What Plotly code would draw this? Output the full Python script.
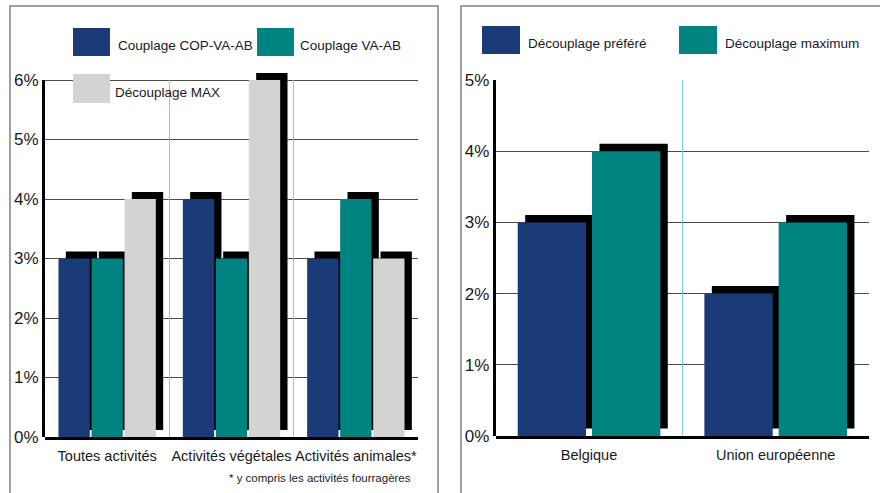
import plotly.graph_objects as go

# ---------------- data ----------------
left_categories = ["Toutes activités", "Activités végétales", "Activités animales*"]
left_series = ["Couplage COP-VA-AB", "Couplage VA-AB", "Découplage MAX"]
couplage_cop_va_ab = [3, 4, 3]
couplage_va_ab = [3, 3, 4]
decouplage_max = [4, 6, 3]
left_tick_values = [0, 1, 2, 3, 4, 5, 6]
left_tick_labels = ["0%", "1%", "2%", "3%", "4%", "5%", "6%"]

right_categories = ["Belgique", "Union européenne"]
right_series = ["Découplage préféré", "Découplage maximum"]
decouplage_prefere = [3, 2]
decouplage_maximum = [4, 3]
right_tick_values = [0, 1, 2, 3, 4, 5]
right_tick_labels = ["0%", "1%", "2%", "3%", "4%", "5%"]

footnote = "* y compris les activités fourragères"

# ---------------- style ----------------
W, H = 880, 493
FONT = "Liberation Sans, Arial, sans-serif"
BLUE = "#1b3a78"
TEAL = "#008482"
GREY = "#d3d4d2"
GRID = "#4a4a4a"
SKY = "#7fcbef"
FRAME = "#808080"
TXT = "#1a1a1a"


def px(x):
    return x / W


def py(y):
    return 1 - y / H


fig = go.Figure()

left_values = [couplage_cop_va_ab, couplage_va_ab, decouplage_max]
right_values = [decouplage_prefere, decouplage_maximum]
left_colors = [BLUE, TEAL, GREY]
right_colors = [BLUE, TEAL]


def add_panel(values, colors, ncat, bw, gap, dx, dy, xa, ya):
    group = len(values) * bw + (len(values) - 1) * gap
    xs = list(range(ncat))
    # shadows first
    for i, v in enumerate(values):
        off = -group / 2 + i * (bw + gap)
        fig.add_trace(go.Bar(x=xs, y=v, base=[dy] * ncat, offset=off + dx, width=bw,
                             marker=dict(color="black", line=dict(width=0)),
                             xaxis=xa, yaxis=ya, showlegend=False, hoverinfo="skip"))
    for i, v in enumerate(values):
        off = -group / 2 + i * (bw + gap)
        fig.add_trace(go.Bar(x=xs, y=v, offset=off, width=bw,
                             marker=dict(color=colors[i], line=dict(width=0)),
                             xaxis=xa, yaxis=ya, showlegend=False))


# left: category width 124.3 px, unit 59.5 px
add_panel(left_values, left_colors, 3, 0.252, 0.0135, 0.059, 0.118, "x", "y")
# right: category width 186.7 px, unit 71.2 px
add_panel(right_values, right_colors, 2, 0.366, 0.032, 0.040, 0.105, "x2", "y2")

# empty traces for decoration subplots
fig.add_trace(go.Scatter(x=[], y=[], xaxis="x3", yaxis="y3", showlegend=False, hoverinfo="skip"))
fig.add_trace(go.Scatter(x=[], y=[], xaxis="x4", yaxis="y4", showlegend=False, hoverinfo="skip"))

tickfont = dict(family=FONT, size=17, color=TXT)
catfont = dict(family=FONT, size=14.5, color=TXT)

L_x0, L_x1, L_y0, L_y6 = 45, 418, 437, 80
R_x0, R_x1, R_y0, R_y5 = 495.7, 869, 436, 80
extra_left = 8 / ((L_y0 - L_y6) / 6)

fig.update_layout(
    width=W, height=H, autosize=False,
    margin=dict(l=0, r=0, t=0, b=0, autoexpand=False),
    paper_bgcolor="white", plot_bgcolor="rgba(0,0,0,0)",
    barmode="overlay", showlegend=False,
    font=dict(family=FONT),
    xaxis=dict(domain=[px(L_x0), px(L_x1)], range=[-0.5, 2.5], anchor="y",
               tickvals=[0, 1, 2], ticktext=left_categories, tickfont=catfont, tickangle=0,
               showgrid=False, zeroline=False, showline=True, linecolor="black", linewidth=3,
               ticks="", ticklabelstandoff=4),
    yaxis=dict(domain=[py(L_y0), py(L_y6 - 8)], range=[0, 6 + extra_left], anchor="x",
               tickvals=left_tick_values, showticklabels=False, showgrid=True,
               gridcolor=GRID, gridwidth=1.2, zeroline=False, showline=False, ticks=""),
    xaxis2=dict(domain=[px(R_x0), px(R_x1)], range=[-0.5, 1.5], anchor="y2",
                tickvals=[0, 1], ticktext=right_categories, tickfont=catfont, tickangle=0,
                showgrid=False, zeroline=False, showline=True, linecolor="black", linewidth=3,
                ticks="", ticklabelstandoff=4),
    yaxis2=dict(domain=[py(R_y0), py(R_y5)], range=[0, 5], anchor="x2",
                tickvals=right_tick_values, showticklabels=False, showgrid=True,
                gridcolor=GRID, gridwidth=1.2, zeroline=False, showline=False, ticks=""),
    xaxis3=dict(domain=[px(L_x0), px(L_x1)], range=[-0.5, 2.5], anchor="y3",
                tickvals=[0.5, 1.5, 2.5], showticklabels=False, showgrid=True,
                gridcolor=SKY, gridwidth=1, zeroline=False, showline=False, ticks=""),
    yaxis3=dict(domain=[py(L_y0), py(L_y6)], range=[0, 6], anchor="x3",
                tickvals=left_tick_values, ticktext=left_tick_labels, tickfont=tickfont,
                showgrid=False, zeroline=False, showline=True, linecolor="black", linewidth=3,
                ticks="", ticklabelstandoff=0),
    xaxis4=dict(domain=[px(R_x0), px(R_x1)], range=[-0.5, 1.5], anchor="y4",
                tickvals=[0.5, 1.5], showticklabels=False, showgrid=True,
                gridcolor=SKY, gridwidth=1, zeroline=False, showline=False, ticks=""),
    yaxis4=dict(domain=[py(R_y0), py(R_y5)], range=[0, 5], anchor="x4",
                tickvals=right_tick_values, ticktext=right_tick_labels, tickfont=tickfont,
                showgrid=False, zeroline=False, showline=True, linecolor="black", linewidth=3,
                ticks="", ticklabelstandoff=0),
)

shapes = []
annotations = []

# panel frames
shapes.append(dict(type="path", xref="paper", yref="paper",
                   path=f"M {px(10)} {py(H + 5)} L {px(10)} {py(6)} L {px(438)} {py(6)} L {px(438)} {py(H + 5)}",
                   line=dict(color=FRAME, width=1.5)))
shapes.append(dict(type="path", xref="paper", yref="paper",
                   path=f"M {px(461)} {py(H + 5)} L {px(461)} {py(6)} L {px(W + 5)} {py(6)}",
                   line=dict(color=FRAME, width=1.5)))

legend_font = dict(family=FONT, size=13.5, color=TXT)
legend_items = [
    (left_series[0], BLUE, 73, 28, 110, 56, 116),
    (left_series[1], TEAL, 257, 28, 294, 56, 298),
    (left_series[2], GREY, 73, 74, 110, 103, 113),
    (right_series[0], BLUE, 482, 26, 520, 54, 526),
    (right_series[1], TEAL, 679, 26, 717, 54, 723),
]
for name, col, x0, y0, x1, y1, tx in legend_items:
    shapes.append(dict(type="rect", xref="paper", yref="paper",
                       x0=px(x0), x1=px(x1), y0=py(y1), y1=py(y0),
                       fillcolor=col, line=dict(width=0), layer="above"))
    annotations.append(dict(text=name, xref="paper", yref="paper", x=px(tx), y=py((y0 + y1) / 2 + 4),
                            xanchor="left", yanchor="middle", showarrow=False, font=legend_font))

annotations.append(dict(text=footnote, xref="paper", yref="paper", x=px(413), y=py(478),
                        xanchor="right", yanchor="middle", showarrow=False,
                        font=dict(family=FONT, size=11.5, color=TXT)))

fig.update_layout(shapes=shapes, annotations=annotations)

fig.write_html("out.html", config={"displayModeBar": False},
               post_script="document.body.style.margin='0';document.body.style.overflow='hidden';")
